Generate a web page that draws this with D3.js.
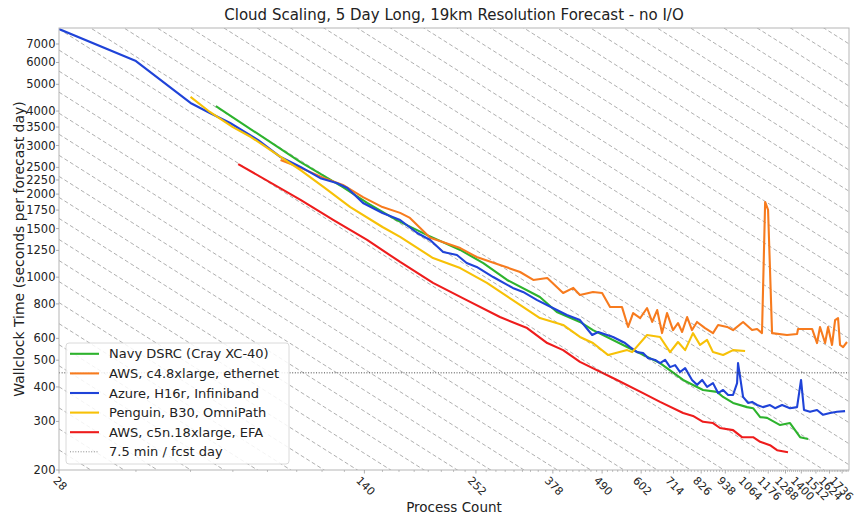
<!DOCTYPE html>
<html><head><meta charset="utf-8">
<script src="https://cdn.jsdelivr.net/npm/d3@7"></script>
<style>body{margin:0;background:#fff;} svg text{font-family:"DejaVu Sans",sans-serif;fill:#222;}</style>
</head><body><svg id="chart" width="855" height="515"></svg>
<script>
// ---------- data ----------
const xTickValues=[28,140,252,378,490,602,714,826,938,1064,1176,1288,1400,1512,1624,1736];
const yTickValues=[200,300,400,500,600,800,1000,1250,1500,1750,2000,2250,2500,3000,3500,4000,5000,6000,7000];
const seriesNames=["Navy DSRC (Cray XC-40)","AWS, c4.8xlarge, ethernet","Azure, H16r, Infiniband","Penguin, B30, OmniPath","AWS, c5n.18xlarge, EFA"];
const seriesColors=["#2db32d","#f77b1e","#1f43d8","#f7c107","#ee1c1c"];
const thresholdLabel="7.5 min / fcst day";
const thresholdValue=450;

const navyN=[64,100,125,142,166,195,232,262,297,353,386,436,467,559,665,751,834,898,927,977,1052,1086,1127,1169,1252,1319,1391,1451];
const navyT=[4170,2610,2120,1860,1610,1420,1255,1125,977,847,748,688,643,558,488,424,390,384,368,350,338,335,311,309,291,296,263,259];

const awsEthN=[90,100,113,125,139,154,169,178,198,232,253,286,318,341,367,399,421,436,467,490,511,544,562,577,599,621,638,655,672,690,712,731,747,767,787,808,843,879,903,947,977,1030,1080,1109,1138,1157,1175,1200,1298,1369,1376,1482,1521,1545,1587,1612,1646,1673,1699,1717,1745,1781];
const awsEthT=[2660,2490,2290,2160,1950,1795,1710,1640,1390,1275,1183,1107,1044,977,993,876,914,862,884,876,780,780,660,741,711,773,688,760,627,741,643,682,633,717,643,688,654,627,671,660,643,688,643,649,627,1873,1752,627,617,622,649,649,577,660,577,660,568,699,711,568,558,582];

const azureN=[28,42,56,62,69,80,90,100,111,121,128,139,154,169,185,198,212,228,240,253,276,306,323,348,378,407,436,465,480,519,553,568,589,608,624,648,665,683,701,720,739,759,787,808,830,852,879,903,927,952,977,998,1003,1030,1057,1080,1109,1144,1187,1219,1265,1319,1369,1398,1420,1466,1521,1570,1629,1690,1763];
const azureT=[7930,6070,4280,3935,3620,3140,2725,2510,2285,2195,2105,1857,1708,1611,1446,1364,1234,1203,1125,1089,1001,914,884,826,773,729,699,617,633,607,577,558,535,531,509,501,488,501,472,480,453,468,424,407,424,400,413,380,390,374,374,413,488,368,350,353,344,338,344,335,344,335,338,424,330,325,330,317,322,325,327];

const penguinN=[56,62,70,77,90,100,113,130,154,169,201,232,267,306,353,399,436,467,506,559,574,621,665,701,731,759,791,821,852,879,927,977,1041];
const penguinT=[4500,3970,3500,3220,2730,2445,2120,1795,1520,1400,1173,1079,953,826,711,671,607,577,522,544,535,617,607,535,582,544,627,568,592,535,522,544,540];

const awsEfaN=[72,100,119,142,169,201,240,286,330,367,399,436,530,608,665,751,791,834,879,912,977,1024,1086,1127,1187,1232,1305];
const awsEfaT=[2570,1905,1610,1365,1135,953,826,717,654,577,544,493,424,380,353,322,314,299,296,284,279,263,263,253,246,236,232];

// ideal-scaling reference lines T = C / N (geometric family)
const idealBaseC=28*7930;
const idealRatio=1.192;

// ---------- chart ----------
const W=855,H=515;
const m={l:59,r:6,t:28,b:45};
const svg=d3.select("#chart");
const x=d3.scaleLog().domain([28,1800]).range([m.l,W-m.r]);
const y=d3.scaleLog().domain([200,8000]).range([H-m.b,m.t]);
const x0=m.l,x1=W-m.r,y0=m.t,y1=H-m.b;

svg.append("defs").append("clipPath").attr("id","clip")
  .append("rect").attr("x",x0).attr("y",y0).attr("width",x1-x0).attr("height",y1-y0);

const plot=svg.append("g").attr("clip-path","url(#clip)");

// diagonal ideal lines
const ks=d3.range(-40,45);
plot.selectAll("line.ideal").data(ks).enter().append("line")
  .attr("x1",x(28)).attr("x2",x(1800))
  .attr("y1",k=>y(idealBaseC*Math.pow(idealRatio,k)/28))
  .attr("y2",k=>y(idealBaseC*Math.pow(idealRatio,k)/1800))
  .attr("stroke","#9a9a9a").attr("stroke-width",0.8).attr("stroke-dasharray","4,2.5");

const series=[
  {n:navyN,t:navyT},{n:awsEthN,t:awsEthT},{n:azureN,t:azureT},{n:penguinN,t:penguinT},{n:awsEfaN,t:awsEfaT}
];
const line=d3.line().x(d=>x(d[0])).y(d=>y(d[1]));
series.forEach((s,i)=>{
  const pts=s.n.map((v,j)=>[v,s.t[j]]);
  plot.append("path").datum(pts).attr("d",line).attr("fill","none")
    .attr("stroke",seriesColors[i]).attr("stroke-width",2.1)
    .attr("stroke-linejoin","round").attr("stroke-linecap","butt");
});
// threshold line
plot.append("line").attr("x1",x0).attr("x2",x1)
  .attr("y1",y(thresholdValue)).attr("y2",y(thresholdValue))
  .attr("stroke","#444").attr("stroke-width",1).attr("stroke-dasharray","1,1.65");

// spines
svg.append("rect").attr("x",x0).attr("y",y0).attr("width",x1-x0).attr("height",y1-y0)
  .attr("fill","none").attr("stroke","#b5b5b5").attr("stroke-width",1);

// x ticks
const xMinor=d3.range(42,1800,14).filter(v=>!xTickValues.includes(v));
svg.selectAll("line.xminor").data(xMinor).enter().append("line")
  .attr("x1",d=>x(d)).attr("x2",d=>x(d)).attr("y1",y1).attr("y2",y1+2)
  .attr("stroke","#999").attr("stroke-width",0.6);
svg.selectAll("line.xmajor").data(xTickValues).enter().append("line")
  .attr("x1",d=>x(d)).attr("x2",d=>x(d)).attr("y1",y1).attr("y2",y1+3.5)
  .attr("stroke","#999").attr("stroke-width",0.8);
const xl=svg.append("g");
xTickValues.forEach(v=>{
  const t=xl.append("text").text(v).attr("font-size",11)
    .attr("text-anchor","middle").attr("dominant-baseline","central");
  const w=t.node().getComputedTextLength();
  const h=8;
  const bb=(w+h)/Math.SQRT2;
  const cx=Math.min(x(v)+1, W-1-bb/2);
  t.attr("transform",`translate(${cx},${y1+6+bb/2}) rotate(45)`);
});

// y ticks
svg.selectAll("line.ymajor").data(yTickValues).enter().append("line")
  .attr("x1",x0-3).attr("x2",x0).attr("y1",d=>y(d)).attr("y2",d=>y(d))
  .attr("stroke","#999").attr("stroke-width",0.8);
svg.selectAll("text.ylab").data(yTickValues).enter().append("text")
  .attr("x",x0-3.5).attr("y",d=>y(d)).attr("dy","0.35em")
  .attr("text-anchor","end").attr("font-size",11.5).text(d=>d);

// titles
svg.append("text").attr("x",(x0+x1)/2).attr("y",20).attr("text-anchor","middle")
  .attr("font-size",15).text("Cloud Scaling, 5 Day Long, 19km Resolution Forecast - no I/O");
svg.append("text").attr("x",(x0+x1)/2).attr("y",512).attr("text-anchor","middle")
  .attr("font-size",13.5).text("Process Count");
svg.append("text").attr("transform",`translate(19,${(y0+y1)/2}) rotate(-90)`)
  .attr("text-anchor","middle").attr("dominant-baseline","central")
  .attr("font-size",14).text("Wallclock Time (seconds per forecast day)");

// legend
const lg=svg.append("g");
lg.append("rect").attr("x",66).attr("y",343).attr("width",223).attr("height",121).attr("rx",3)
  .attr("fill","#fff").attr("fill-opacity",0.85).attr("stroke","#d0d0d0").attr("stroke-width",0.8);
const rows=seriesNames.concat([thresholdLabel]);
rows.forEach((name,i)=>{
  const cy=353.8+i*19.6;
  const ln=lg.append("line").attr("x1",70).attr("x2",99).attr("y1",cy).attr("y2",cy);
  if(i<5) ln.attr("stroke",seriesColors[i]).attr("stroke-width",2.1);
  else ln.attr("stroke","#888").attr("stroke-width",1).attr("stroke-dasharray","1,1.65");
  lg.append("text").attr("x",109).attr("y",cy).attr("dy","0.35em").attr("font-size",13).text(name);
});
</script></body></html>
